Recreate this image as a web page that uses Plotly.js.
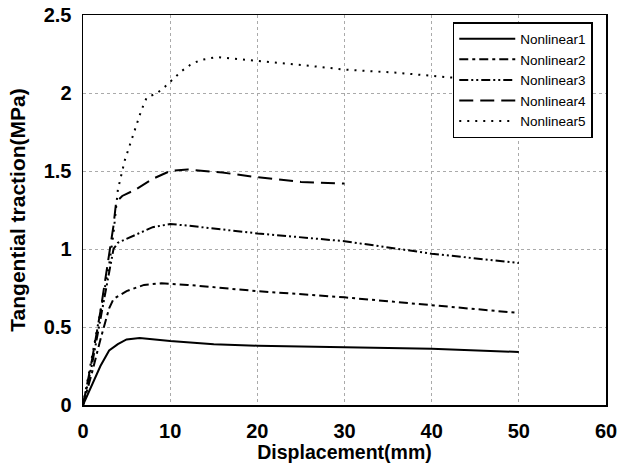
<!DOCTYPE html>
<html>
<head>
<meta charset="utf-8">
<script src="https://cdn.plot.ly/plotly-3.0.1.min.js"></script>
<style>html,body{margin:0;padding:0;background:#fff;}#chart{width:619px;height:471px;}</style>
</head>
<body>
<div id="chart"></div>
<script>
// Tangential traction vs displacement for five nonlinear cases
const seriesNames = ["Nonlinear1", "Nonlinear2", "Nonlinear3", "Nonlinear4", "Nonlinear5"];

const x1 = [0, 1, 2, 3, 4, 5, 6.5, 10, 15, 20, 30, 40, 50];
const y1 = [0, 0.12, 0.25, 0.35, 0.39, 0.42, 0.43, 0.41, 0.39, 0.38, 0.37, 0.36, 0.34];

const x2 = [0, 1, 2, 3, 3.5, 5, 7, 9, 12, 20, 30, 40, 50];
const y2 = [0, 0.2, 0.42, 0.62, 0.68, 0.73, 0.77, 0.78, 0.77, 0.73, 0.69, 0.64, 0.59];

const x3 = [0, 1, 2, 3, 3.5, 4, 6, 8, 10, 12, 20, 30, 40, 50];
const y3 = [0, 0.25, 0.55, 0.85, 1.0, 1.04, 1.09, 1.14, 1.16, 1.15, 1.10, 1.05, 0.97, 0.91];

const x4 = [0, 1, 2, 3, 3.5, 3.8, 4.5, 6, 8, 10, 12, 16, 20, 25, 30];
const y4 = [0, 0.28, 0.6, 0.95, 1.15, 1.3, 1.34, 1.38, 1.45, 1.5, 1.51, 1.49, 1.46, 1.43, 1.42];

const x5 = [0, 1, 2, 3, 3.5, 4, 4.8, 5.8, 6.7, 7.3, 8.5, 9.4, 10.3, 11.3, 12.3, 13.4, 15.3, 17.2, 20, 25, 30, 36, 42, 50];
const y5 = [0, 0.3, 0.6, 0.9, 1.1, 1.38, 1.57, 1.74, 1.89, 1.97, 2.0, 2.04, 2.09, 2.14, 2.18, 2.21, 2.23, 2.22, 2.21, 2.18, 2.15, 2.13, 2.10, 2.08];

const xTicks = [0, 10, 20, 30, 40, 50, 60];
const yTicks = [0, 0.5, 1, 1.5, 2, 2.5];

const xs = [x1, x2, x3, x4, x5];
const ys = [y1, y2, y3, y4, y5];
const dashes = ["solid", "9px,4px,3px,4px", "9px,3px,2px,3px,2px,3px", "14px,7px", "2px,6px"];

const traces = seriesNames.map((name, i) => ({
  type: "scatter",
  mode: "lines",
  name: name,
  x: xs[i],
  y: ys[i],
  line: {color: "#000", width: 2, dash: dashes[i]}
}));

const family = "Liberation Sans, Arial, sans-serif";
const tickFont = {family: family, size: 20, color: "#000", weight: "bold"};

const layout = {
  width: 619,
  height: 471,
  margin: {l: 83, r: 13, t: 15, b: 66},
  paper_bgcolor: "#fff",
  plot_bgcolor: "#fff",
  showlegend: true,
  legend: {
    x: 0.707, y: 0.982, xanchor: "left", yanchor: "top",
    bgcolor: "#fff", bordercolor: "#000", borderwidth: 1.5,
    font: {family: family, size: 13.5, color: "#000"},
    itemwidth: 56,
    tracegroupgap: 0
  },
  xaxis: {
    range: [0, 60],
    tickvals: xTicks,
    ticktext: xTicks.map(String),
    tickfont: tickFont,
    ticklabelstandoff: 7,
    showline: true, linecolor: "#000", linewidth: 1.5, mirror: true,
    ticks: "", zeroline: false,
    showgrid: true, gridcolor: "#aaa", griddash: "dot", gridwidth: 1,
    title: {text: "Displacement(mm)", font: {family: family, size: 19.5, color: "#000", weight: "bold"}, standoff: 4}
  },
  yaxis: {
    range: [0, 2.5],
    tickvals: yTicks,
    ticktext: yTicks.map(String),
    tickfont: tickFont,
    ticklabelstandoff: 6,
    showline: true, linecolor: "#000", linewidth: 1.5, mirror: true,
    ticks: "", zeroline: false,
    showgrid: true, gridcolor: "#aaa", griddash: "dot", gridwidth: 1,
    title: {text: "Tangential traction(MPa)", font: {family: family, size: 21, color: "#000", weight: "bold"}, standoff: 12}
  }
};

Plotly.newPlot("chart", traces, layout, {displayModeBar: false, staticPlot: true});
</script>
</body>
</html>
